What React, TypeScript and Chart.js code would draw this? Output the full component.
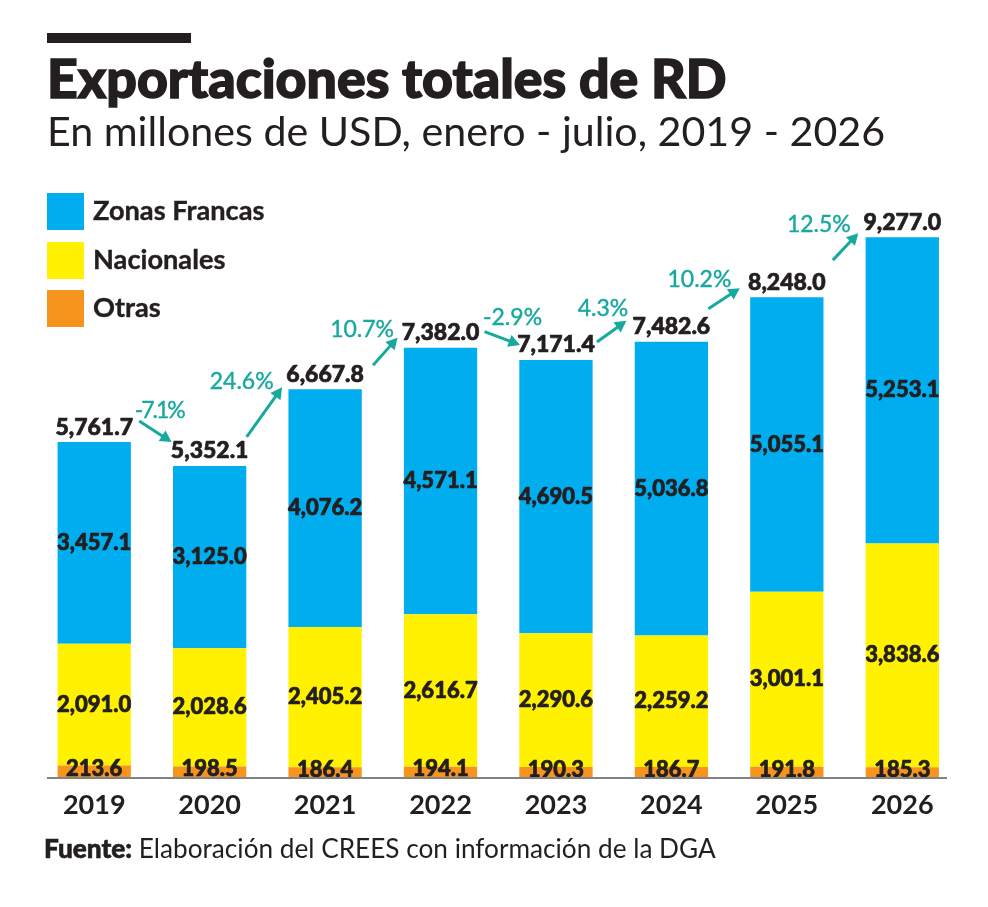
import React, { useEffect, useRef } from 'react';
import { Chart, registerables } from 'chart.js';

Chart.register(...registerables);

const years = ['2019', '2020', '2021', '2022', '2023', '2024', '2025', '2026'];
const otras = [213.6, 198.5, 186.4, 194.1, 190.3, 186.7, 191.8, 185.3];
const nacionales = [2091.0, 2028.6, 2405.2, 2616.7, 2290.6, 2259.2, 3001.1, 3838.6];
const zonasFrancas = [3457.1, 3125.0, 4076.2, 4571.1, 4690.5, 5036.8, 5055.1, 5253.1];
const totales = [5761.7, 5352.1, 6667.8, 7382.0, 7171.4, 7482.6, 8248.0, 9277.0];
const variaciones = ['-7.1%', '24.6%', '10.7%', '-2.9%', '4.3%', '10.2%', '12.5%'];

const INK = '#231f20';
const TEAL = '#17a89e';
const BLUE = '#00adef';
const YELLOW = '#fff100';
const ORANGE = '#f7941d';
const FONT = 'Lato, sans-serif';

// legend rows, top to bottom
const legendRows = [
    { name: 'Zonas Francas', color: BLUE },
    { name: 'Nacionales', color: YELLOW },
    { name: 'Otras', color: ORANGE },
];

// hand placed offsets from the bars: start dx, start dy, end dx, end dy, label dx, label dy
const arrowOffsets = [
    [45, -21, -38, -24, 20, -11],
    [37, -29, -43, -2, -5, -55],
    [48, -24, -43, -10, -11, -36],
    [44, -16, -36, -15, 28, -14],
    [41, -18, -45, -21, 6, -33],
    [37, -33, -47, -9, -9, -29],
    [46, -37, -44, -4, -14, -36],
];

const fmt = (v: number) => v.toLocaleString('en-US', { minimumFractionDigits: 1, maximumFractionDigits: 1 });

// fill plus a thin stroke, Lato's black is lighter than the original face
const heavyText = (ctx: CanvasRenderingContext2D, s: string, x: number, y: number, w: number) => {
    ctx.lineWidth = w;
    ctx.strokeText(s, x, y);
    ctx.fillText(s, x, y);
};

const barTextPlugin = {
    id: 'barText',
    afterDatasetsDraw(chart: any) {
        const { ctx, scales } = chart;
        const x = scales.x;
        const y = scales.y;
        ctx.save();
        ctx.textAlign = 'center';
        ctx.textBaseline = 'middle';
        ctx.lineJoin = 'round';
        ctx.fillStyle = INK;
        ctx.strokeStyle = INK;

        // segment labels
        ctx.font = `900 22px ${FONT}`;
        chart.data.datasets.forEach((ds: any, d: number) => {
            const meta = chart.getDatasetMeta(d);
            meta.data.forEach((bar: any, i: number) => {
                const mid = bar.y + (bar.base - bar.y) / 2 - (d === 0 ? 3 : 0);
                heavyText(ctx, fmt(ds.data[i]), bar.x, mid, 0.7);
            });
        });

        // totals over the bars
        ctx.font = `900 23px ${FONT}`;
        totales.forEach((t, i) => {
            heavyText(ctx, fmt(t), x.getPixelForValue(i), y.getPixelForValue(t) - 15, 0.7);
        });

        // baseline runs a bit wider than the bars
        ctx.strokeStyle = '#808285';
        ctx.lineWidth = 2;
        ctx.beginPath();
        ctx.moveTo(47, y.bottom);
        ctx.lineTo(947, y.bottom);
        ctx.stroke();

        // variation arrows
        ctx.strokeStyle = TEAL;
        ctx.fillStyle = TEAL;
        ctx.font = `400 23px ${FONT}`;
        variaciones.forEach((label, i) => {
            const [sx, sy, ex, ey, lx, ly] = arrowOffsets[i];
            const x0 = x.getPixelForValue(i) + sx;
            const y0 = y.getPixelForValue(totales[i]) + sy;
            const x1 = x.getPixelForValue(i + 1) + ex;
            const y1 = y.getPixelForValue(totales[i + 1]) + ey;
            const a = Math.atan2(y1 - y0, x1 - x0);
            ctx.lineWidth = 3;
            ctx.beginPath();
            ctx.moveTo(x0, y0);
            ctx.lineTo(x1 - 8 * Math.cos(a), y1 - 8 * Math.sin(a));
            ctx.stroke();
            ctx.beginPath();
            ctx.moveTo(x1, y1);
            ctx.lineTo(x1 - 13 * Math.cos(a - 0.5), y1 - 13 * Math.sin(a - 0.5));
            ctx.lineTo(x1 - 13 * Math.cos(a + 0.5), y1 - 13 * Math.sin(a + 0.5));
            ctx.closePath();
            ctx.fill();
            ctx.letterSpacing = i === 0 ? '-2px' : '0px';
            heavyText(ctx, label, x0 + lx, y0 + ly, 0.4);
        });
        ctx.restore();
    },
};

const ExportacionesChart: React.FC = () => {
    const chartRef = useRef<HTMLCanvasElement>(null);

    useEffect(() => {
        if (!chartRef.current) return;
        const chart = new Chart(chartRef.current, {
            type: 'bar',
            data: {
                labels: years,
                datasets: [
                    { label: 'Otras', data: otras, backgroundColor: ORANGE },
                    { label: 'Nacionales', data: nacionales, backgroundColor: YELLOW },
                    { label: 'Zonas Francas', data: zonasFrancas, backgroundColor: BLUE },
                ],
            },
            options: {
                responsive: false,
                animation: false,
                datasets: { bar: { categoryPercentage: 1, barPercentage: 0.635 } },
                layout: { padding: { left: 36.5, right: 28, top: 195, bottom: 69 } },
                plugins: {
                    legend: { display: false },
                    tooltip: { enabled: false },
                },
                scales: {
                    x: {
                        stacked: true,
                        grid: { display: false, drawTicks: false },
                        border: { display: false },
                        ticks: {
                            color: INK,
                            padding: 11,
                            maxRotation: 0,
                            font: { family: 'Lato', size: 27, weight: 'bold' },
                        },
                        afterFit: (scale: any) => { scale.height = 60; },
                    },
                    y: { stacked: true, display: false, min: 0, max: 10000 },
                },
            },
            plugins: [barTextPlugin],
        });
        return () => chart.destroy();
    }, []);

    return <canvas ref={chartRef} width={988} height={907} style={{ position: 'absolute', left: 0, top: 0 }} />;
};

const text: React.CSSProperties = { position: 'absolute', whiteSpace: 'nowrap', color: INK, fontFamily: FONT, lineHeight: 1 };

export default function App() {
    return (
        <div style={{ position: 'absolute', left: 0, top: 0, width: 988, height: 907, background: '#fff', overflow: 'hidden' }}>
            <ExportacionesChart />
            <div style={{ position: 'absolute', left: 47, top: 33, width: 144, height: 10, background: INK }} />
            <div style={{ ...text, left: 47, top: 51, fontSize: 53.6, fontWeight: 900, WebkitTextStroke: `1.5px ${INK}` }}>Exportaciones totales de RD</div>
            <div style={{ ...text, left: 47, top: 110, fontSize: 41.2, fontWeight: 400 }}>En millones de USD, enero - julio, 2019 - 2026</div>
            {legendRows.map((row, i) => (
                <React.Fragment key={row.name}>
                    <div style={{ position: 'absolute', left: 47, top: 193 + i * 48.5, width: 37, height: 37, background: row.color }} />
                    <div style={{ ...text, left: 93, top: 196 + i * 48.5, fontSize: 27.2, fontWeight: 700, WebkitTextStroke: `0.4px ${INK}` }}>{row.name}</div>
                </React.Fragment>
            ))}
            <div style={{ ...text, left: 44, top: 835, fontSize: 26.2 }}>
                <b style={{ fontWeight: 900, WebkitTextStroke: `0.6px ${INK}` }}>Fuente:</b> Elaboración del CREES con información de la DGA
            </div>
        </div>
    );
}
